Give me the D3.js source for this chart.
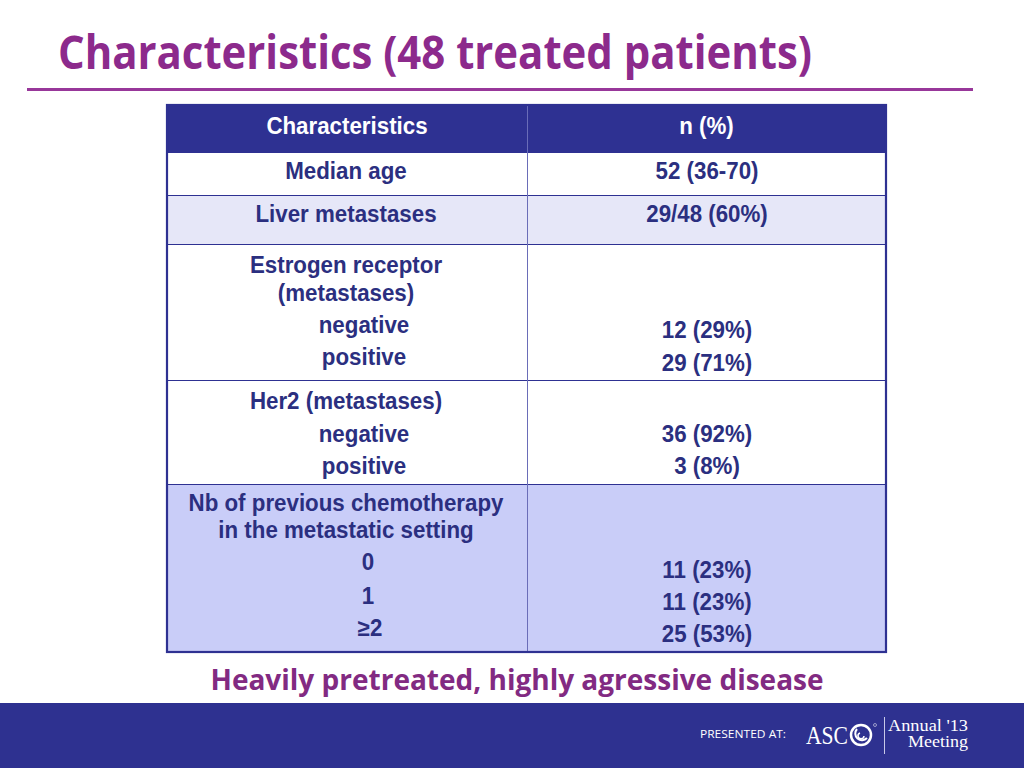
<!DOCTYPE html>
<html><head><meta charset="utf-8">
<script src="https://cdn.jsdelivr.net/npm/d3@7"></script>
<style>html,body{margin:0;padding:0;background:#fff;overflow:hidden}</style>
</head><body>
<script>
const title = "Characteristics (48 treated patients)";
const subtitle = "Heavily pretreated, highly agressive disease";
const headers = ["Characteristics", "n (%)"];
// each row: left-column lines, right-column lines
const rowLabels = [
  ["Median age"],
  ["Liver metastases"],
  ["Estrogen receptor", "(metastases)", "negative", "positive"],
  ["Her2 (metastases)", "negative", "positive"],
  ["Nb of previous chemotherapy", "in the metastatic setting", "0", "1", "≥2"]
];
const rowValues = [
  ["52 (36-70)"],
  ["29/48 (60%)"],
  ["12 (29%)", "29 (71%)"],
  ["36 (92%)", "3 (8%)"],
  ["11 (23%)", "11 (23%)", "25 (53%)"]
];
const rowFills = ["#ffffff", "#e6e7f8", "#ffffff", "#ffffff", "#c9cdf8"];

const W = 1024, H = 768;
const svg = d3.select("body").append("svg").attr("width", W).attr("height", H);
const navy = "#2e3192", purple = "#8c2a8c", txt = "#2b2f80";

// Title
svg.append("text").attr("x", 58).attr("y", 69).text(title)
  .attr("font-family", "'Open Sans', sans-serif").attr("font-weight", 700)
  .attr("font-size", 47).attr("fill", purple)
  .attr("textLength", 754).attr("lengthAdjust", "spacingAndGlyphs");
svg.append("line").attr("x1", 27).attr("x2", 973).attr("y1", 89.5).attr("y2", 89.5)
  .attr("stroke", "#98379a").attr("stroke-width", 3);

// Table geometry via scales
const colX = d3.scaleOrdinal().domain([0, 1]).range([167, 527]);
const colW = d3.scaleOrdinal().domain([0, 1]).range([360, 359]);
const rowEdges = [105, 152, 195, 244, 380, 484, 652];
const y = i => rowEdges[i];

const font = "'Liberation Sans', Arial, sans-serif";
const fsize = 23.5;
const narrow = 0.95; // horizontal squeeze to mimic the condensed face

function ctext(parent, x, yy, t, fill) {
  return parent.append("text").attr("transform", `translate(${x},${yy}) scale(${narrow},1)`)
    .attr("text-anchor", "middle").attr("font-family", font).attr("font-weight", 700)
    .attr("font-size", fsize).attr("fill", fill).text(t);
}

// header
svg.append("rect").attr("x", 167).attr("y", y(0)).attr("width", 719).attr("height", y(1) - y(0)).attr("fill", navy);
headers.forEach((h, c) => ctext(svg, colX(c) + colW(c) / 2, 134, h, "#fff"));

// body rows
const g = svg.append("g");
g.selectAll("rect.row").data(rowFills).join("rect").attr("class", "row")
  .attr("x", 167).attr("width", 719)
  .attr("y", (d, i) => y(i + 1)).attr("height", (d, i) => y(i + 2) - y(i + 1)).attr("fill", d => d);

const labelY = [
  [179],
  [222],
  [273, 301, 333, 365],
  [409, 442, 474],
  [511, 538, 570, 604, 636]
];
const labelX = [
  [346],
  [346],
  [346, 346, 364, 364],
  [346, 364, 364],
  [346, 346, 368, 368, 370]
];
const valueY = [
  [179],
  [222],
  [338, 371],
  [442, 474],
  [578, 610, 642]
];

rowLabels.forEach((lines, r) => lines.forEach((t, k) => ctext(g, labelX[r][k], labelY[r][k], t, txt)));
rowValues.forEach((lines, r) => lines.forEach((t, k) => ctext(g, 707, valueY[r][k], t, txt)));

// grid lines
rowEdges.slice(1, -1).forEach(v => {
  svg.append("line").attr("x1", 167).attr("x2", 886).attr("y1", v + 0.5).attr("y2", v + 0.5)
    .attr("stroke", navy).attr("stroke-width", 1.2);
});
svg.append("line").attr("x1", 527.5).attr("x2", 527.5).attr("y1", y(0)).attr("y2", y(6))
  .attr("stroke", "#6a6db8").attr("stroke-width", 1);
svg.append("rect").attr("x", 167).attr("y", y(0)).attr("width", 719).attr("height", y(6) - y(0))
  .attr("fill", "none").attr("stroke", navy).attr("stroke-width", 2.2);

// subtitle
svg.append("text").attr("x", 517).attr("y", 690).attr("text-anchor", "middle").text(subtitle)
  .attr("font-family", "'Open Sans', sans-serif").attr("font-weight", 700).attr("font-size", 28)
  .attr("fill", "#822a82").attr("textLength", 613).attr("lengthAdjust", "spacingAndGlyphs");

// footer band
svg.append("rect").attr("x", 0).attr("y", 703).attr("width", W).attr("height", 65).attr("fill", "#2e3190");
svg.append("text").attr("x", 700).attr("y", 738).text("PRESENTED AT:")
  .attr("font-family", "'Open Sans', sans-serif").attr("font-size", 11).attr("fill", "#fff")
  .attr("textLength", 86).attr("lengthAdjust", "spacingAndGlyphs");
svg.append("text").attr("x", 806).attr("y", 744).text("ASC")
  .attr("font-family", "'Liberation Serif', serif").attr("font-size", 26).attr("fill", "#fff")
  .attr("textLength", 42).attr("lengthAdjust", "spacingAndGlyphs");
const lg = svg.append("g").attr("transform", "translate(861,735)");
lg.append("circle").attr("r", 10).attr("fill", "none").attr("stroke", "#fff").attr("stroke-width", 2.5);
lg.append("path").attr("d", "M-4,-6 A6,6 0 1,0 6,3").attr("fill", "none").attr("stroke", "#fff").attr("stroke-width", 2);
lg.append("path").attr("d", "M-1,-2 A3,3 0 1,0 3,1").attr("fill", "none").attr("stroke", "#fff").attr("stroke-width", 1.5);
svg.append("circle").attr("cx", 875).attr("cy", 725).attr("r", 1.5).attr("fill", "none").attr("stroke", "#fff").attr("stroke-width", 0.5);
svg.append("line").attr("x1", 884.5).attr("x2", 884.5).attr("y1", 717).attr("y2", 754).attr("stroke", "#c8c9e8").attr("stroke-width", 1);
svg.append("text").attr("x", 888).attr("y", 731).text("Annual '13")
  .attr("font-family", "'Liberation Serif', serif").attr("font-size", 16).attr("fill", "#fff")
  .attr("textLength", 80).attr("lengthAdjust", "spacingAndGlyphs");
svg.append("text").attr("x", 968).attr("y", 747).attr("text-anchor", "end").text("Meeting")
  .attr("font-family", "'Liberation Serif', serif").attr("font-size", 16).attr("fill", "#fff")
  .attr("textLength", 60).attr("lengthAdjust", "spacingAndGlyphs");
</script>
</body></html>
